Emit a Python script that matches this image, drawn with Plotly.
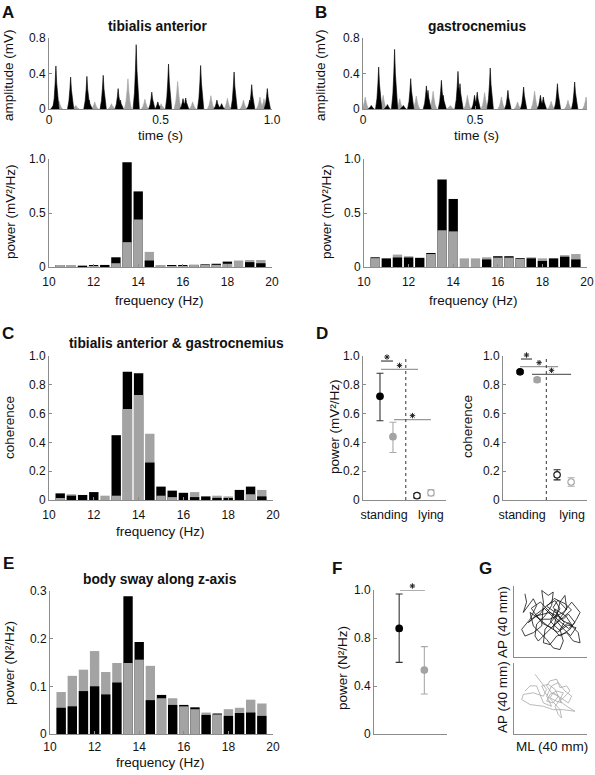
import plotly.graph_objects as go

W, H = 595, 775
FONT = "Liberation Sans, Arial, sans-serif"
BLACK = "#000000"
GRAY = "#a3a3a3"
AXIS = "#8c8c8c"
TXT = "#111111"

# ---------------- data ----------------
FREQ = [10.5, 11.0, 11.5, 12.0, 12.5, 13.0, 13.5, 14.0, 14.5, 15.0,
        15.5, 16.0, 16.5, 17.0, 17.5, 18.0, 18.5, 19.0, 19.5]

# EMG spikes (time s, amplitude mV)
A_black_t = [0.022, 0.031, 0.097, 0.170, 0.180, 0.243, 0.310, 0.320, 0.391, 0.461, 0.488,
             0.536, 0.601, 0.613, 0.680, 0.753, 0.774, 0.830, 0.900, 0.909, 0.979]
A_black_h = [0.06, 0.485, 0.36, 0.368, 0.10, 0.38, 0.23, 0.10, 0.725, 0.19, 0.08,
             0.507, 0.116, 0.124, 0.49, 0.10, 0.06, 0.417, 0.10, 0.274, 0.23]
A_gray_t = [0.045, 0.120, 0.205, 0.280, 0.354, 0.430, 0.503, 0.577, 0.644, 0.726, 0.800, 0.872, 0.946, 0.964]
A_gray_h = [0.09, 0.04, 0.08, 0.06, 0.34, 0.11, 0.06, 0.31, 0.08, 0.15, 0.12, 0.10, 0.135, 0.115]

B_black_t = [0.037, 0.070, 0.109, 0.141, 0.180, 0.213, 0.283, 0.290, 0.350, 0.358, 0.424,
             0.433, 0.498, 0.510, 0.568, 0.647, 0.717, 0.792, 0.805, 0.868, 0.945]
B_black_h = [0.04, 0.473, 0.05, 0.672, 0.04, 0.342, 0.26, 0.21, 0.323, 0.154, 0.424,
             0.285, 0.154, 0.19, 0.462, 0.21, 0.248, 0.154, 0.135, 0.285, 0.304]
B_gray_t = [0.010, 0.090, 0.164, 0.238, 0.313, 0.390, 0.466, 0.543, 0.618, 0.690, 0.766, 0.840, 0.915, 0.996]
B_gray_h = [0.135, 0.154, 0.116, 0.146, 0.20, 0.04, 0.154, 0.184, 0.135, 0.08, 0.20, 0.086, 0.098, 0.135]

# power spectra (mV^2/Hz)
A_pow_black = [0.015, 0.015, 0.005, 0.012, 0.012, 0.09, 0.97, 0.70, 0.06, 0.015,
               0.012, 0.012, 0.02, 0.025, 0.03, 0.05, 0.0, 0.045, 0.035]
A_pow_gray = [0.01, 0.01, 0.015, 0.005, 0.02, 0.035, 0.23, 0.44, 0.14, 0.01,
              0.008, 0.008, 0.015, 0.02, 0.02, 0.03, 0.06, 0.065, 0.065]
B_pow_black = [0.09, 0.08, 0.088, 0.088, 0.085, 0.13, 0.81, 0.63, 0.0, 0.0,
               0.07, 0.10, 0.10, 0.082, 0.08, 0.056, 0.08, 0.095, 0.07]
B_pow_gray = [0.082, 0.0, 0.115, 0.10, 0.0, 0.12, 0.34, 0.33, 0.08, 0.08,
              0.09, 0.087, 0.087, 0.075, 0.09, 0.08, 0.0, 0.11, 0.12]

# coherence
C_black = [0.046, 0.03, 0.035, 0.055, 0.0, 0.45, 0.89, 0.88, 0.26, 0.093,
           0.065, 0.05, 0.02, 0.025, 0.015, 0.01, 0.07, 0.093, 0.025]
C_gray = [0.01, 0.04, 0.0, 0.0, 0.03, 0.03, 0.632, 0.73, 0.46, 0.03,
          0.02, 0.0, 0.055, 0.0, 0.03, 0.025, 0.0, 0.04, 0.07]

# body sway power (N^2/Hz)
E_black = [0.055, 0.058, 0.09, 0.10, 0.083, 0.108, 0.289, 0.193, 0.071, 0.082,
           0.061, 0.061, 0.056, 0.040, 0.043, 0.038, 0.044, 0.045, 0.038]
E_gray = [0.088, 0.122, 0.135, 0.174, 0.130, 0.149, 0.149, 0.156, 0.143, 0.075,
          0.075, 0.058, 0.052, 0.045, 0.041, 0.052, 0.055, 0.072, 0.064]

# D: group summary (standing black, standing gray, lying black, lying gray)
D_x_pow = [1.01, 2.01, 3.86, 4.94]
D_pow_mean = [0.72, 0.44, 0.03, 0.05]
D_pow_up = [0.16, 0.10, 0.015, 0.02]
D_pow_dn = [0.17, 0.11, 0.015, 0.02]
D_x_coh = [1.0, 2.3, 3.82, 4.89]
D_coh_mean = [0.89, 0.835, 0.175, 0.125]
D_coh_up = [0.01, 0.015, 0.035, 0.03]
D_coh_dn = [0.01, 0.015, 0.035, 0.03]
D_split = 3.0
D_pow_sig = [(1.09, 2.01, 0.965), (1.09, 3.94, 0.907), (2.09, 4.94, 0.558)]
D_coh_sig = [(1.07, 1.91, 0.979), (1.0, 3.9, 0.926), (1.91, 4.89, 0.873)]
D_pow_ticks = [1.32, 4.94]
D_coh_ticks = [1.15, 4.97]
D_ticktext = ["standing", "lying"]

# F: body sway power summary
F_x = [1, 2]
F_mean = [0.88, 0.533]
F_up = [0.287, 0.195]
F_dn = [0.283, 0.20]
F_sig = [(1.03, 2.02, 1.2)]

# G: centre-of-pressure trajectories (mm)
G1_x = [6.0, 6.9, 5.1, 7.9, 10.6, 12.4, 8.8, 4.2, 6.0, 10.6, 15.2, 16.1, 15.2, 18.8, 21.5, 20.6,
        17.0, 12.4, 11.5, 13.3, 17.9, 23.4, 28.9, 27.9, 25.2, 23.4, 21.5, 25.2, 30.7, 34.3, 36.2,
        31.6, 27.0, 19.7, 14.2, 8.8, 10.6, 17.9, 21.5, 25.2, 27.0, 25.2, 29.8, 35.2, 36.2, 32.5,
        28.9, 23.4, 19.7, 16.1, 17.0, 21.5, 25.2, 22.5, 17.9, 14.2, 10.6, 7.9, 12.4, 19.7, 27.0,
        29.8, 33.4, 30.0, 24.5, 19.0, 14.5, 9.5, 13.0, 18.5, 24.0, 29.5, 34.0, 31.0, 26.0,
        21.0, 16.5, 12.0, 15.5, 20.5, 26.5, 31.5, 28.0, 22.0, 18.0, 23.5, 27.5, 25.0, 20.0,
        22.5, 28.5, 32.0, 26.0, 21.5, 24.0, 29.0]
G1_y = [35.6, 30.9, 25.1, 29.0, 32.8, 29.0, 21.3, 15.6, 11.8, 13.7, 17.5, 30.9, 37.5, 34.7, 36.6, 29.0,
        23.2, 18.5, 11.8, 9.0, 13.7, 19.4, 27.1, 34.7, 30.9, 23.2, 15.6, 11.8, 15.6, 21.3, 25.1,
        30.9, 25.1, 21.3, 21.3, 25.1, 17.5, 9.9, 5.1, 4.2, 9.0, 15.6, 19.4, 13.7, 8.0, 9.0,
        13.7, 11.8, 7.0, 8.0, 15.6, 21.3, 27.1, 31.8, 29.0, 24.2, 22.3, 19.4, 23.2, 25.1, 21.3,
        24.2, 19.4, 16.0, 20.5, 26.0, 31.0, 27.5, 22.0, 17.5, 14.0, 18.0, 16.5, 12.0, 17.0,
        23.0, 27.5, 24.0, 19.0, 16.5, 22.0, 26.5, 30.0, 33.0, 28.5, 24.5, 19.5, 15.0, 20.0,
        27.0, 23.0, 17.5, 21.0, 28.0, 32.0, 26.5]
G2_x = [11.5, 15.2, 17.9, 16.1, 10.6, 5.1, 4.2, 8.8, 16.1, 21.5, 27.0, 33.4, 28.9, 25.2, 27.9,
        30.7, 28.9, 25.2, 23.4, 19.7, 17.9, 20.6, 24.3, 21.5, 17.9, 19.7, 23.4, 27.0, 25.2, 22.5,
        24.3, 26.1, 25.2, 20.6, 17.0, 15.2, 18.8, 22.5, 26.1, 23.4, 19.7, 21.5, 27.0, 29.8, 31.6,
        27.9, 24.3, 20.6, 17.9, 20.6, 16.1, 12.4, 8.8, 6.0]
G2_y = [33.7, 29.0, 25.1, 21.3, 23.2, 22.3, 19.4, 16.6, 15.6, 13.7, 13.7, 12.8, 15.6, 18.5, 21.3,
        24.2, 27.1, 26.1, 30.9, 29.9, 27.1, 23.2, 21.3, 17.5, 18.5, 22.3, 24.2, 23.2, 19.4, 15.6,
        10.9, 9.0, 13.7, 19.4, 23.2, 27.1, 28.0, 25.1, 17.5, 18.5, 20.4, 23.2, 19.4, 17.5, 21.3,
        24.2, 29.0, 27.1, 21.3, 15.6, 17.5, 27.1, 27.1, 24.2]

# ---------------- helpers ----------------
def dx(a, b):
    return [a / W, b / W]


def dy(top, bottom):
    return [1 - bottom / H, 1 - top / H]


def spikes(ts, hs, w):
    xs, ys = [], []
    for t, h in zip(ts, hs):
        xs += [t - w, t - 0.55 * w, t - 0.25 * w, t, t + 0.25 * w, t + 0.55 * w, t + w, None]
        ys += [0, 0.25 * h, 0.6 * h, h, 0.6 * h, 0.25 * h, 0, None]
    return xs, ys


def bar_layers(black, gray):
    back_y, back_c, front_y, front_c = [], [], [], []
    for b, g in zip(black, gray):
        if b >= g:
            back_y.append(b); back_c.append(BLACK); front_y.append(g); front_c.append(GRAY)
        else:
            back_y.append(g); back_c.append(GRAY); front_y.append(b); front_c.append(BLACK)
    return (back_y, back_c), (front_y, front_c)


fig = go.Figure()


def add_emg(n, bt, bh, gt, gh):
    gx, gy = spikes(gt, gh, 0.016)
    fig.add_trace(go.Scatter(x=gx, y=gy, mode="lines", fill="toself", fillcolor=GRAY,
                             line=dict(color=GRAY, width=0.6), xaxis=f"x{n}", yaxis=f"y{n}",
                             showlegend=False, hoverinfo="skip"))
    bx, by = spikes(bt, bh, 0.014)
    fig.add_trace(go.Scatter(x=bx, y=by, mode="lines", fill="toself", fillcolor=BLACK,
                             line=dict(color=BLACK, width=0.6), xaxis=f"x{n}", yaxis=f"y{n}",
                             showlegend=False, hoverinfo="skip"))


def add_bars(n, black, gray):
    (by, bc), (fy, fc) = bar_layers(black, gray)
    for yy, cc in ((by, bc), (fy, fc)):
        fig.add_trace(go.Bar(x=FREQ, y=yy, marker=dict(color=cc, line=dict(width=0)),
                             width=0.42, xaxis=f"x{n}", yaxis=f"y{n}", showlegend=False,
                             hoverinfo="skip"))


def add_points(n, xs, means, ups, dns, styles):
    for x, m, u, d, (fillc, edgec, barc) in zip(xs, means, ups, dns, styles):
        fig.add_trace(go.Scatter(x=[x], y=[m], mode="markers",
                                 marker=dict(size=6.5, color=fillc, line=dict(color=edgec, width=1.2)),
                                 error_y=dict(type="data", symmetric=False, array=[u], arrayminus=[d],
                                              color=barc, thickness=1.1, width=3.5),
                                 xaxis=f"x{n}", yaxis=f"y{n}", showlegend=False, hoverinfo="skip"))


add_emg("", A_black_t, A_black_h, A_gray_t, A_gray_h)
add_emg(2, B_black_t, B_black_h, B_gray_t, B_gray_h)
add_bars(3, A_pow_black, A_pow_gray)
add_bars(4, B_pow_black, B_pow_gray)
add_bars(5, C_black, C_gray)
add_bars(8, E_black, E_gray)

STYLES4 = [(BLACK, BLACK, "#333333"), (GRAY, GRAY, "#aaaaaa"),
           ("white", "#222222", "#222222"), ("white", "#aaaaaa", "#aaaaaa")]
add_points(6, D_x_pow, D_pow_mean, D_pow_up, D_pow_dn, STYLES4)
add_points(7, D_x_coh, D_coh_mean, D_coh_up, D_coh_dn, STYLES4)
add_points(9, F_x, F_mean, F_up, F_dn, STYLES4[:2])

fig.add_trace(go.Scatter(x=G1_x, y=G1_y, mode="lines", line=dict(color="#111111", width=0.8),
                         xaxis="x10", yaxis="y10", showlegend=False, hoverinfo="skip"))
fig.add_trace(go.Scatter(x=G2_x, y=G2_y, mode="lines", line=dict(color="#a8a8a8", width=0.8),
                         xaxis="x11", yaxis="y11", showlegend=False, hoverinfo="skip"))

# significance bars with asterisks (asterisks live on hidden, taller twin axes 12-14)
EXTRA = 20  # px of headroom above the plotted panels
shapes = []
for n, star_n, sigs, colors, yspan in [(6, 12, D_pow_sig, ["#444444", "#999999", "#999999"], 1.0),
                                       (7, 13, D_coh_sig, ["#444444", "#999999", "#666666"], 1.0),
                                       (9, 14, F_sig, ["#777777"], 1.2)]:
    off = 4.0 * yspan / 144.0
    for (x0, x1, y), c in zip(sigs, colors):
        shapes.append(dict(type="line", xref=f"x{n}", yref=f"y{n}", x0=x0, x1=x1, y0=y, y1=y,
                           line=dict(color=c, width=1.2)))
    fig.add_trace(go.Scatter(x=[(a + b) / 2 for a, b, _ in sigs], y=[y + off for _, _, y in sigs],
                             mode="markers", cliponaxis=False,
                             marker=dict(symbol="asterisk-open", size=4.5, color="#222222",
                                         line=dict(color="#222222", width=1)),
                             xaxis=f"x{star_n}", yaxis=f"y{star_n}", showlegend=False,
                             hoverinfo="skip"))

for n in (6, 7):
    shapes.append(dict(type="line", xref=f"x{n}", yref=f"y{n}", x0=D_split, x1=D_split, y0=0, y1=1.0,
                       line=dict(color="#333333", width=1, dash="dot")))

# ---------------- axes ----------------
base = dict(showline=True, linecolor=AXIS, linewidth=1, ticks="inside", ticklen=3,
            tickcolor=AXIS, showgrid=False, zeroline=False, fixedrange=True, automargin=False,
            tickfont=dict(family=FONT, size=12, color=TXT))

freq_x = dict(range=[10, 20], tickvals=[10, 12, 14, 16, 18, 20], ticklabelstandoff=4)
freq_xe = dict(range=[10, 20], tickvals=[10, 12, 14, 16, 18, 20], ticklabelstandoff=2)
time_x = dict(range=[0, 1.0], tickvals=[0, 0.5, 1.0], ticktext=["0", "0.5", "1.0"])
amp_y = dict(range=[0, 0.8], tickvals=[0, 0.4, 0.8], ticktext=["0", "0.4", "0.8"])
pow_y = dict(range=[0, 1.0], tickvals=[0, 0.5, 1.0], ticktext=["0", "0.5", "1.0"])
coh_y = dict(range=[0, 1.0], tickvals=[0, 0.2, 0.4, 0.6, 0.8, 1.0],
             ticktext=["0", "0.2", "0.4", "0.6", "0.8", "1.0"])
hidden = dict(visible=False)

axes = {
    "": (dx(49, 272), dy(38, 109), time_x, amp_y),
    "2": (dx(363, 587), dy(38, 109), time_x, amp_y),
    "3": (dx(49, 272), dy(159, 267), freq_x, pow_y),
    "4": (dx(364, 587), dy(159, 267), freq_x, pow_y),
    "5": (dx(49, 273), dy(356, 500), freq_x, coh_y),
    "6": (dx(363, 446), dy(356, 500),
          dict(range=[-0.3, 6.1], tickvals=D_pow_ticks, ticktext=D_ticktext, ticks="",
               ticklabelstandoff=3, tickfont=dict(family=FONT, size=12.5, color=TXT)), coh_y),
    "7": (dx(503, 587), dy(356, 500),
          dict(range=[-0.3, 6.1], tickvals=D_coh_ticks, ticktext=D_ticktext, ticks="",
               ticklabelstandoff=3, tickfont=dict(family=FONT, size=12.5, color=TXT)), coh_y),
    "8": (dx(50, 273), dy(591, 734), freq_xe,
          dict(range=[0, 0.3], tickvals=[0, 0.1, 0.2, 0.3], ticktext=["0", "0.1", "0.2", "0.3"])),
    "9": (dx(374, 447), dy(590, 734), dict(range=[0, 2.9], showticklabels=False, ticks=""),
          dict(range=[0, 1.2], tickvals=[0, 0.4, 0.8, 1.2], ticktext=["0", "0.4", "0.8", "1.0"])),
    "10": (dx(514, 587), dy(586, 657), dict(range=[0, 40], tickvals=[40], showticklabels=False),
           dict(range=[0, 40], tickvals=[40], showticklabels=False)),
    "11": (dx(514, 587), dy(663, 734), dict(range=[0, 40], tickvals=[40], showticklabels=False),
           dict(range=[0, 40], tickvals=[40], showticklabels=False)),
    # hidden twins with headroom for the asterisks
    "12": (dx(363, 446), dy(356 - EXTRA, 500), dict(hidden, range=[-0.3, 6.1]),
           dict(hidden, range=[0, 1.0 * (144 + EXTRA) / 144])),
    "13": (dx(503, 587), dy(356 - EXTRA, 500), dict(hidden, range=[-0.3, 6.1]),
           dict(hidden, range=[0, 1.0 * (144 + EXTRA) / 144])),
    "14": (dx(374, 447), dy(590 - EXTRA, 734), dict(hidden, range=[0, 2.9]),
           dict(hidden, range=[0, 1.2 * (144 + EXTRA) / 144])),
}

layout_axes = {}
for k, (xd, yd, xo, yo) in axes.items():
    xa = dict(base); xa.update(xo); xa.update(domain=xd, anchor="y" + k)
    ya = dict(base); ya.update(yo); ya.update(domain=yd, anchor="x" + k)
    layout_axes["xaxis" + k] = xa
    layout_axes["yaxis" + k] = ya

# ---------------- text ----------------
ann = []


def text(t, x, y, size, bold=False, angle=0):
    ann.append(dict(text=f"<b>{t}</b>" if bold else t, x=x / W, y=1 - y / H, xref="paper",
                    yref="paper", xanchor="center", yanchor="middle", showarrow=False,
                    textangle=angle, font=dict(family=FONT, size=size, color=TXT)))


for letter, x, y in [("A", 8, 12), ("B", 321, 12), ("C", 8, 333), ("D", 322, 333),
                     ("E", 8, 563), ("F", 337, 568), ("G", 485, 568)]:
    text(letter, x, y, 17, bold=True)

text("tibialis anterior", 158, 27, 13.8, bold=True)
text("gastrocnemius", 477, 27, 13.8, bold=True)
text("tibialis anterior &amp; gastrocnemius", 176, 343, 13.8, bold=True)
text("body sway along z-axis", 160, 579, 13.8, bold=True)

text("amplitude (mV)", 8, 75, 13.5, angle=-90)
text("amplitude (mV)", 320, 75, 13.5, angle=-90)
text("time (s)", 160, 135, 13.5)
text("time (s)", 476, 135, 13.5)
text("power (mV²/Hz)", 10, 212, 13.5, angle=-90)
text("power (mV²/Hz)", 326, 212, 13.5, angle=-90)
text("frequency (Hz)", 159, 300, 13.5)
text("frequency (Hz)", 474, 300, 13.5)
text("coherence", 9, 428, 13.5, angle=-90)
text("frequency (Hz)", 160, 531, 13.5)
text("power (mV²/Hz)", 334, 427, 13.5, angle=-90)
text("coherence", 467, 427, 13.5, angle=-90)
text("power (N²/Hz)", 9, 663, 13.5, angle=-90)
text("frequency (Hz)", 160, 762, 13.5)
text("power (N²/Hz)", 342, 668, 13.5, angle=-90)
text("AP (40 mm)", 502, 622, 13.5, angle=-90)
text("AP (40 mm)", 502, 697, 13.5, angle=-90)
text("ML (40 mm)", 552, 746, 13.5)

fig.update_layout(width=W, height=H, margin=dict(l=0, r=0, t=0, b=0, autoexpand=False),
                  paper_bgcolor="white", plot_bgcolor="rgba(0,0,0,0)", barmode="overlay",
                  showlegend=False, annotations=ann, shapes=shapes,
                  font=dict(family=FONT, color=TXT), **layout_axes)

fig.write_html("out.html", config={"displayModeBar": False},
               post_script="document.body.style.margin='0';document.body.style.overflow='hidden';")
